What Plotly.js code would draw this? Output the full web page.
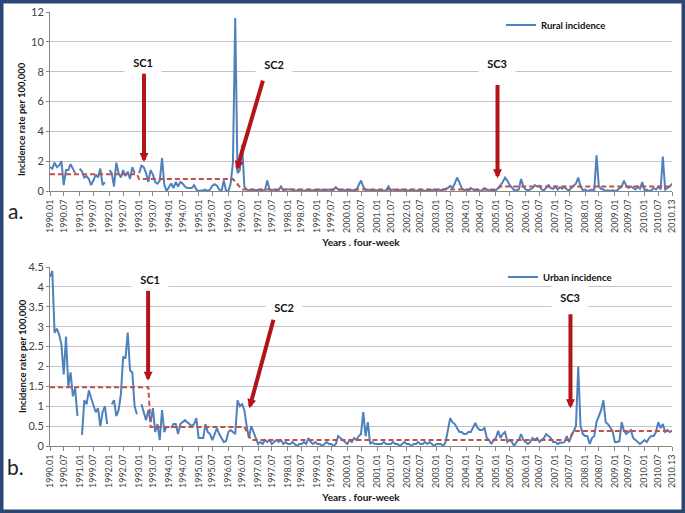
<!DOCTYPE html>
<html>
<head>
<meta charset="utf-8">
<script src="https://cdn.plot.ly/plotly-3.0.1.min.js"></script>
<style>html,body{margin:0;padding:0;background:#fff;}#chart{width:685px;height:513px;}</style>
</head>
<body>
<div id="chart"></div>
<script>
// ---- categories: four-week periods 1990.01 ... 2010.13 ----
const years = [1990,1991,1992,1993,1994,1995,1996,1997,1998,1999,2000,2001,2002,2003,2004,2005,2006,2007,2008,2009,2010];
const periods = ['01','02','03','04','05','06','07','08','09','10','11','12','13'];
const fourWeekPeriods = years.flatMap(y => periods.map(p => y + '.' + p));

// ---- tick labels as printed (note the original's "1999.07" label) ----
const tickCategories = years.flatMap(y => [y + '.01', y + '.07']).concat(['2010.13']);
const tickLabels = ['1990.01','1990.07','1991.01','1999.07','1992.01','1992.07','1993.01','1993.07','1994.01','1994.07',
  '1995.01','1995.07','1996.01','1996.07','1997.01','1997.07','1998.01','1998.07','1999.01','1999.07',
  '2000.01','2000.07','2001.01','2001.07','2002.01','2002.07','2003.01','2003.07','2004.01','2004.07',
  '2005.01','2005.07','2006.01','2006.07','2007.01','2007.07','2008.01','2008.07','2009.01','2009.07',
  '2010.01','2010.07','2010.13'];

// ---- rural incidence per 100,000 (13 four-week periods per year) ----
const ruralIncidence = [
  1.6,1.5,1.9,1.6,1.7,2.0,0.4,1.4,1.4,1.8,1.5,1.2,null,        // 1990
  1.5,1.3,0.9,1.0,0.8,0.4,0.7,1.1,0.9,1.5,0.4,0.6,null,        // 1991
  1.4,1.2,0.3,1.9,1.2,0.9,1.4,1.0,1.3,0.8,1.6,1.2,null,        // 1992
  1.2,1.7,1.6,1.2,0.6,1.4,1.1,0.6,0.5,0.7,2.2,0.4,0.0,         // 1993
  0.3,0.5,0.2,0.6,0.3,0.6,0.5,0.3,0.2,0.2,0.2,0.4,0.1,         // 1994
  0.0,0.0,0.05,0.1,0.0,0.1,0.35,0.45,0.35,0.1,0.0,0.7,0.0,     // 1995
  0.0,0.5,1.9,11.6,1.2,1.4,3.1,0.3,0.1,0.05,0.1,0.0,0.05,      // 1996
  0.05,0.1,0.0,0.05,0.7,0.1,0.05,0.1,0.0,0.05,0.3,0.05,0.1,    // 1997
  0.1,0.05,0.1,0.0,0.05,0.1,0.05,0.0,0.05,0.1,0.05,0.05,0.0,   // 1998
  0.05,0.1,0.05,0.0,0.05,0.1,0.05,0.1,0.25,0.1,0.05,0.1,0.05,  // 1999
  0.05,0.1,0.05,0.1,0.05,0.4,0.7,0.3,0.05,0.1,0.05,0.0,0.05,   // 2000
  0.05,0.1,0.05,0.0,0.05,0.3,0.05,0.1,0.05,0.0,0.05,0.1,0.05,  // 2001
  0.0,0.05,0.1,0.05,0.0,0.05,0.1,0.05,0.0,0.05,0.1,0.05,0.1,   // 2002
  0.05,0.1,0.05,0.1,0.1,0.2,0.35,0.2,0.5,0.9,0.6,0.2,0.05,     // 2003
  0.1,0.05,0.2,0.1,0.05,0.1,0.0,0.05,0.2,0.1,0.05,0.0,0.05,    // 2004
  0.05,0.2,0.4,0.6,0.9,0.7,0.4,0.2,0.05,0.05,0.1,0.8,0.3,      // 2005
  0.1,0.05,0.1,0.2,0.4,0.3,0.35,0.1,0.05,0.2,0.4,0.2,0.15,     // 2006
  0.3,0.1,0.25,0.15,0.3,0.1,0.05,0.2,0.3,0.5,0.9,0.3,0.05,     // 2007
  0.1,0.0,0.05,0.1,0.05,2.4,0.3,0.15,0.1,0.0,0.05,0.0,0.05,    // 2008
  0.0,0.05,0.2,0.3,0.7,0.35,0.2,0.3,0.2,0.1,0.3,0.15,0.6,      // 2009
  0.05,0.1,0.0,0.05,0.2,0.1,0.3,0.1,2.3,0.1,0.2,0.3,0.5        // 2010
];

// ---- urban incidence per 100,000 ----
const urbanIncidence = [
  4.25,4.4,2.85,2.95,2.8,2.55,1.8,2.75,1.5,1.85,1.25,1.45,0.75, // 1990
  null,0.28,1.15,1.05,1.4,1.2,1.05,0.85,0.95,0.5,0.85,1.0,0.55,  // 1991
  null,1.05,1.15,0.75,0.9,1.3,2.25,2.2,2.85,1.9,1.85,1.0,0.8,    // 1992
  null,1.05,0.85,0.65,0.9,0.6,0.95,0.35,0.55,0.15,0.9,0.35,0.5,  // 1993
  null,0.45,0.55,0.55,0.3,0.55,0.6,0.65,0.6,0.55,0.5,0.55,0.7,   // 1994
  0.2,0.2,0.2,0.55,0.35,0.3,0.15,0.3,0.45,0.3,0.2,0.1,0.12,      // 1995
  0.35,0.4,0.35,0.3,1.15,1.0,1.05,0.9,0.5,0.2,0.5,0.35,0.25,     // 1996
  0.05,0.1,0.05,0.15,0.1,0.15,0.05,0.1,0.15,0.1,0.15,0.05,0.1,   // 1997
  0.05,0.05,0.1,0.05,0.0,0.05,0.05,0.1,0.05,0.2,0.1,0.05,0.1,    // 1998
  0.05,0.05,0.0,0.05,0.1,0.05,0.05,0.0,0.05,0.25,0.2,0.15,0.1,   // 1999
  0.05,0.15,0.1,0.2,0.15,0.25,0.3,0.85,0.25,0.6,0.05,0.1,0.05,   // 2000
  0.05,0.05,0.05,0.1,0.05,0.05,0.05,0.1,0.05,0.05,0.0,0.05,0.1,  // 2001
  0.05,0.05,0.0,0.05,0.05,0.1,0.05,0.05,0.1,0.05,0.1,0.05,0.0,   // 2002
  0.05,0.05,0.05,0.0,0.1,0.4,0.7,0.6,0.55,0.45,0.35,0.35,0.3,    // 2003
  0.3,0.35,0.35,0.45,0.58,0.45,0.4,0.4,0.45,0.2,0.15,0.05,0.15,  // 2004
  0.2,0.38,0.2,0.3,0.35,0.1,0.15,0.1,0.0,0.1,0.15,0.3,0.15,      // 2005
  0.1,0.05,0.1,0.2,0.15,0.2,0.1,0.15,0.2,0.3,0.25,0.2,0.1,       // 2006
  0.1,0.05,0.08,0.08,0.1,0.25,0.1,0.25,0.4,0.5,2.0,0.5,0.3,      // 2007
  0.25,0.25,0.05,0.2,0.25,0.6,0.75,0.9,1.15,0.6,0.55,0.45,0.38,  // 2008
  0.1,0.1,0.12,0.6,0.38,0.3,0.35,0.4,0.2,0.15,0.1,0.05,0.1,      // 2009
  0.15,0.1,0.2,0.25,0.25,0.35,0.6,0.45,0.55,0.35,0.4,0.35,0.38   // 2010
];

// ---- segment means (structural change periods) ----
const ruralMeanPeriods = ['1990.01','1992.13','1993.01','1996.03','1996.07','2005.01','2005.03','2010.13'];
const ruralMeanValues  = [1.13, 1.13, 0.8, 0.8, 0.1, 0.1, 0.3, 0.3];
const urbanMeanPeriods = ['1990.01','1993.05','1993.06','1996.08','1996.11','2007.07','2007.09','2010.13'];
const urbanMeanValues  = [1.48, 1.48, 0.48, 0.48, 0.15, 0.15, 0.38, 0.38];

// ---- structural change markers ----
const changeLabels = ['SC1','SC2','SC3'];

const W = 685, H = 513;
const px = v => v / W, py = v => 1 - v / H;
const FONT = 'Lato, "Open Sans", "Liberation Sans", sans-serif';
const BLUE = '#4F81BD', DASHRED = '#C0504D', ARROW = '#B3141B';

const traces = [
  {x: fourWeekPeriods, y: ruralIncidence, type: 'scatter', mode: 'lines', name: 'Rural incidence',
   line: {color: BLUE, width: 2}, connectgaps: false, xaxis: 'x', yaxis: 'y', legend: 'legend'},
  {x: ruralMeanPeriods, y: ruralMeanValues, type: 'scatter', mode: 'lines', showlegend: false,
   line: {color: DASHRED, width: 2, dash: '5px,3px'}, xaxis: 'x', yaxis: 'y', hoverinfo: 'skip'},
  {x: fourWeekPeriods, y: urbanIncidence, type: 'scatter', mode: 'lines', name: 'Urban incidence',
   line: {color: BLUE, width: 2}, connectgaps: false, xaxis: 'x2', yaxis: 'y2', legend: 'legend2'},
  {x: urbanMeanPeriods, y: urbanMeanValues, type: 'scatter', mode: 'lines', showlegend: false,
   line: {color: DASHRED, width: 2, dash: '5px,3px'}, xaxis: 'x2', yaxis: 'y2', hoverinfo: 'skip'}
];

const xCommon = {
  type: 'category', categoryorder: 'array', categoryarray: fourWeekPeriods,
  range: [0, fourWeekPeriods.length - 1],
  tickmode: 'array', tickvals: tickCategories, ticktext: tickLabels,
  tickangle: -90, tickfont: {family: FONT, size: 9, color: '#404040'},
  ticks: 'outside', ticklen: 4, tickcolor: '#868686',
  showline: true, linecolor: '#868686', linewidth: 1,
  showgrid: false, zeroline: false, fixedrange: true,
  domain: [px(50), px(672)]
};
const yCommon = {
  showline: true, linecolor: '#868686', linewidth: 1,
  ticks: 'outside', ticklen: 3, tickcolor: '#868686',
  tickfont: {family: FONT, size: 11, color: '#404040'},
  gridcolor: '#C4C4C4', gridwidth: 1, zeroline: false, fixedrange: true
};
const xTitle = {text: 'Years . four-week', font: {family: FONT, size: 10, color: '#111', weight: 'bold'}, standoff: 6};

const layout = {
  width: W, height: H, margin: {l: 0, r: 0, t: 0, b: 0},
  paper_bgcolor: '#fff', plot_bgcolor: '#fff',
  font: {family: FONT},
  xaxis: Object.assign({}, xCommon, {anchor: 'y', title: xTitle}),
  yaxis: Object.assign({}, yCommon, {anchor: 'x', domain: [py(191), py(12)], range: [0, 12], dtick: 2}),
  xaxis2: Object.assign({}, xCommon, {anchor: 'y2', title: xTitle}),
  yaxis2: Object.assign({}, yCommon, {anchor: 'x2', domain: [py(446), py(267)], range: [0, 4.5], dtick: 0.5}),
  showlegend: true,
  legend: {x: px(501), y: py(25), xanchor: 'left', yanchor: 'middle', bgcolor: 'rgba(0,0,0,0)',
           font: {family: FONT, size: 9.5, color: '#111', weight: 'bold'}, itemwidth: 30},
  legend2: {x: px(503), y: py(277), xanchor: 'left', yanchor: 'middle', bgcolor: 'rgba(0,0,0,0)',
           font: {family: FONT, size: 9.5, color: '#111', weight: 'bold'}, itemwidth: 30},
  shapes: [
    {type: 'rect', xref: 'paper', yref: 'paper', x0: 0, x1: 1, y0: 0, y1: 1,
     line: {color: '#2A4776', width: 7}, fillcolor: 'rgba(0,0,0,0)', layer: 'above'}
  ],
  annotations: []
};

const ann = layout.annotations;
const centered = {xanchor: 'center', yanchor: 'middle', showarrow: false};
// y-axis titles and panel letters
ann.push(Object.assign({xref: 'paper', yref: 'paper', x: px(22), y: py(119), text: 'Incidence rate per 100,000', textangle: -90,
          font: {family: FONT, size: 9.5, color: '#111', weight: 'bold'}}, centered));
ann.push(Object.assign({xref: 'paper', yref: 'paper', x: px(22), y: py(356), text: 'Incidence rate per 100,000', textangle: -90,
          font: {family: FONT, size: 9.5, color: '#111', weight: 'bold'}}, centered));
ann.push(Object.assign({xref: 'paper', yref: 'paper', x: px(16), y: py(210), text: 'a.',
          font: {family: FONT, size: 21, color: '#222'}}, centered));
ann.push(Object.assign({xref: 'paper', yref: 'paper', x: px(16), y: py(466), text: 'b.',
          font: {family: FONT, size: 21, color: '#222'}}, centered));

// arrows: [xref, yref, tipX, tipY, tailX, tailY]
const arrows = [
  ['x','y', 41.1, 1.94, 41.1, 7.97],
  ['x','y', 81.6, 1.4, 93.3, 7.5],
  ['x','y', 195.7, 0.85, 195.7, 7.2],
  ['x2','y2', 42.9, 1.64, 42.9, 3.94],
  ['x2','y2', 87.2, 0.95, 97.9, 3.21],
  ['x2','y2', 227.6, 0.95, 227.6, 3.35]
];
arrows.forEach(a => ann.push({xref: a[0], yref: a[1], axref: a[0], ayref: a[1], x: a[2], y: a[3], ax: a[4], ay: a[5],
  text: '', showarrow: true, arrowhead: 2, arrowsize: 0.45, arrowwidth: 4, arrowcolor: ARROW}));

// labels: [xref, yref, x, y, label index]
const labelPos = [
  ['x','y', 40.7, 8.65, 0], ['x','y', 98.1, 8.51, 1], ['x','y', 195.6, 8.56, 2],
  ['x2','y2', 43.7, 4.2, 0], ['x2','y2', 102.3, 3.49, 1], ['x2','y2', 227.4, 3.75, 2]
];
labelPos.forEach(l => ann.push({xref: l[0], yref: l[1], x: l[2], y: l[3], text: changeLabels[l[4]],
  xanchor: 'center', yanchor: 'middle', showarrow: false, bgcolor: '#fff', width: 34, height: 20,
  font: {family: FONT, size: 11, color: '#111', weight: 'bold'}}));

Plotly.newPlot('chart', traces, layout, {staticPlot: true, displayModeBar: false});
</script>
</body>
</html>
